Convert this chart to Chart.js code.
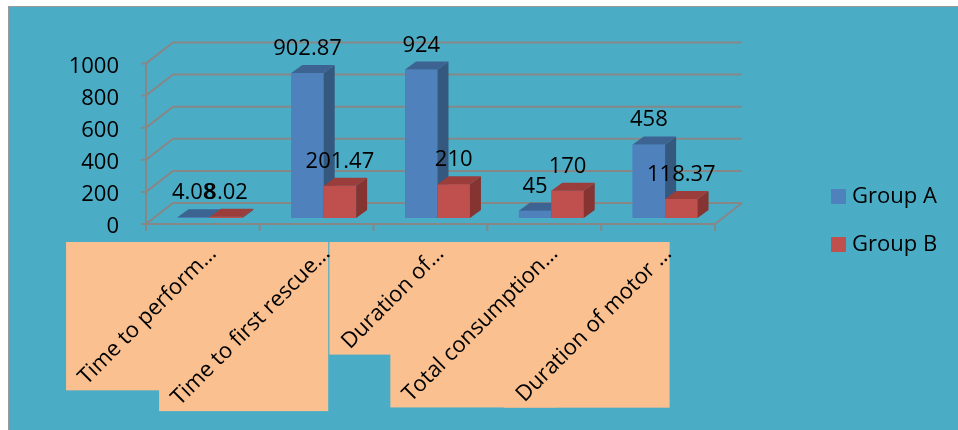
<!DOCTYPE html>
<html>
<head>
<meta charset="utf-8">
<script src="https://cdn.jsdelivr.net/npm/chart.js@4.4.1/dist/chart.umd.min.js"></script>
<style>
  html, body { margin: 0; padding: 0; background: #fff; }
  #wrap { position: absolute; left: 8px; top: 6px; width: 949px; height: 423px;
          border-top: 1px solid #9a9a9a; border-left: 1px solid #9a9a9a; background: #4bacc6; }
  canvas { display: block; }
</style>
</head>
<body>
<div id="wrap"><canvas id="myChart" width="949" height="423"></canvas></div>
<script>
var categories = ['Time to perform…', 'Time to first rescue…', 'Duration of…', 'Total consumption…', 'Duration of motor …'];
var groupA = [4.08, 902.87, 924, 45, 458];
var groupB = [8.02, 201.47, 210, 170, 118.37];
var yTicks = [0, 200, 400, 600, 800, 1000];

var FONT = '22px "Open Sans"';
// offsets from the bar plane to the front plane, back wall, and bar depth
var F = { x: -7, y: 6 };
var B = { x: 20, y: -15 };
var D = { x: 11, y: -8 };
var faces = [
    { side: '#35587f', top: '#3d6392' },
    { side: '#853432', top: '#9b3d3b' }
];

function poly(ctx, pts) {
    ctx.beginPath();
    ctx.moveTo(pts[0][0], pts[0][1]);
    for (var i = 1; i < pts.length; i++) ctx.lineTo(pts[i][0], pts[i][1]);
    ctx.closePath();
    ctx.fill();
}

var threeD = {
    id: 'threeD',
    beforeDraw: function (chart) {
        var ctx = chart.ctx, area = chart.chartArea;
        var xs = chart.scales.x, ys = chart.scales.y;
        ctx.save();

        // orange boxes behind the category labels
        ctx.font = FONT;
        ctx.fillStyle = '#fac090';
        categories.forEach(function (label, i) {
            var right = xs.getPixelForTick(i) + 4.5;
            var side = 0.707 * (ctx.measureText(label).width + 25);
            ctx.fillRect(right - side, 235, side, side);
        });

        // walls and floor
        ctx.strokeStyle = '#878787';
        ctx.lineWidth = 2;
        ctx.beginPath();
        yTicks.forEach(function (v) {
            var py = ys.getPixelForValue(v);
            ctx.moveTo(area.left + F.x - 5, py + F.y);
            ctx.lineTo(area.left + F.x, py + F.y);
            ctx.lineTo(area.left + B.x, py + B.y);
            ctx.lineTo(area.right + B.x, py + B.y);
        });
        var y0 = ys.getPixelForValue(0), y1 = ys.getPixelForValue(yTicks[yTicks.length - 1]);
        ctx.moveTo(area.left + F.x, y1 + F.y);
        ctx.lineTo(area.left + F.x, y0 + F.y);
        ctx.lineTo(area.right + F.x, y0 + F.y);
        ctx.lineTo(area.right + B.x, y0 + B.y);
        var half = (xs.getPixelForTick(1) - xs.getPixelForTick(0)) / 2;
        for (var i = 0; i <= categories.length; i++) {
            var px = xs.getPixelForTick(0) - half + i * half * 2 + F.x;
            ctx.moveTo(px, y0 + F.y);
            ctx.lineTo(px, y0 + F.y + 7);
        }
        ctx.stroke();
        ctx.restore();
    },
    afterDatasetsDraw: function (chart) {
        var ctx = chart.ctx;
        ctx.save();
        categories.forEach(function (c, i) {
            chart.data.datasets.forEach(function (ds, d) {
                var bar = chart.getDatasetMeta(d).data[i];
                var l = bar.x - bar.width / 2, r = bar.x + bar.width / 2;
                var t = bar.y, b = bar.base;
                ctx.fillStyle = ds.backgroundColor;
                ctx.fillRect(l, t, r - l, b - t);
                ctx.fillStyle = faces[d].side;
                poly(ctx, [[r, t], [r + D.x, t + D.y], [r + D.x, b + D.y], [r, b]]);
                ctx.fillStyle = faces[d].top;
                poly(ctx, [[l, t], [l + D.x, t + D.y], [r + D.x, t + D.y], [r, t]]);
            });
        });

        // value labels
        ctx.font = FONT;
        ctx.fillStyle = '#000';
        ctx.textAlign = 'center';
        ctx.textBaseline = 'alphabetic';
        chart.data.datasets.forEach(function (ds, d) {
            chart.getDatasetMeta(d).data.forEach(function (bar, i) {
                ctx.fillText(String(ds.data[i]), bar.x, bar.y - 18);
            });
        });

        // legend
        ctx.textAlign = 'left';
        ctx.textBaseline = 'middle';
        chart.data.datasets.forEach(function (ds, d) {
            var y = 182 + d * 48;
            ctx.fillStyle = ds.backgroundColor;
            ctx.fillRect(822, y, 15, 15);
            ctx.fillStyle = '#000';
            ctx.fillText(ds.label, 843, y + 8);
        });
        ctx.restore();
    }
};

var ctx = document.getElementById('myChart').getContext('2d');

var myChart = new Chart(ctx, {
    type: 'bar',
    data: {
        labels: categories,
        datasets: [
            { label: 'Group A', data: groupA, backgroundColor: '#4f81bd', borderWidth: 0 },
            { label: 'Group B', data: groupB, backgroundColor: '#c0504d', borderWidth: 0 }
        ]
    },
    options: {
        responsive: false,
        animation: false,
        devicePixelRatio: 1,
        layout: { padding: { top: 50.4, right: 236, bottom: 0, left: 0 } },
        datasets: { bar: { categoryPercentage: 0.57, barPercentage: 1 } },
        scales: {
            x: {
                grid: { display: false },
                border: { display: false },
                ticks: {
                    autoSkip: false,
                    minRotation: 45,
                    maxRotation: 45,
                    color: '#000',
                    font: { family: 'Open Sans', size: 22 },
                    padding: 15,
                    labelOffset: 3
                },
                afterFit: function (s) { s.height = 212; }
            },
            y: {
                min: 0,
                max: 1000,
                grid: { display: false },
                border: { display: false },
                afterBuildTicks: function (s) { s.ticks = yTicks.map(function (v) { return { value: v }; }); },
                ticks: {
                    color: '#000',
                    font: { family: 'Open Sans', size: 22 },
                    padding: 26,
                    labelOffset: 9,
                    callback: function (v) { return String(v); }
                },
                afterFit: function (s) { s.width = 144; }
            }
        },
        plugins: {
            legend: { display: false },
            tooltip: { enabled: false }
        }
    },
    plugins: [threeD]
});
</script>
</body>
</html>
